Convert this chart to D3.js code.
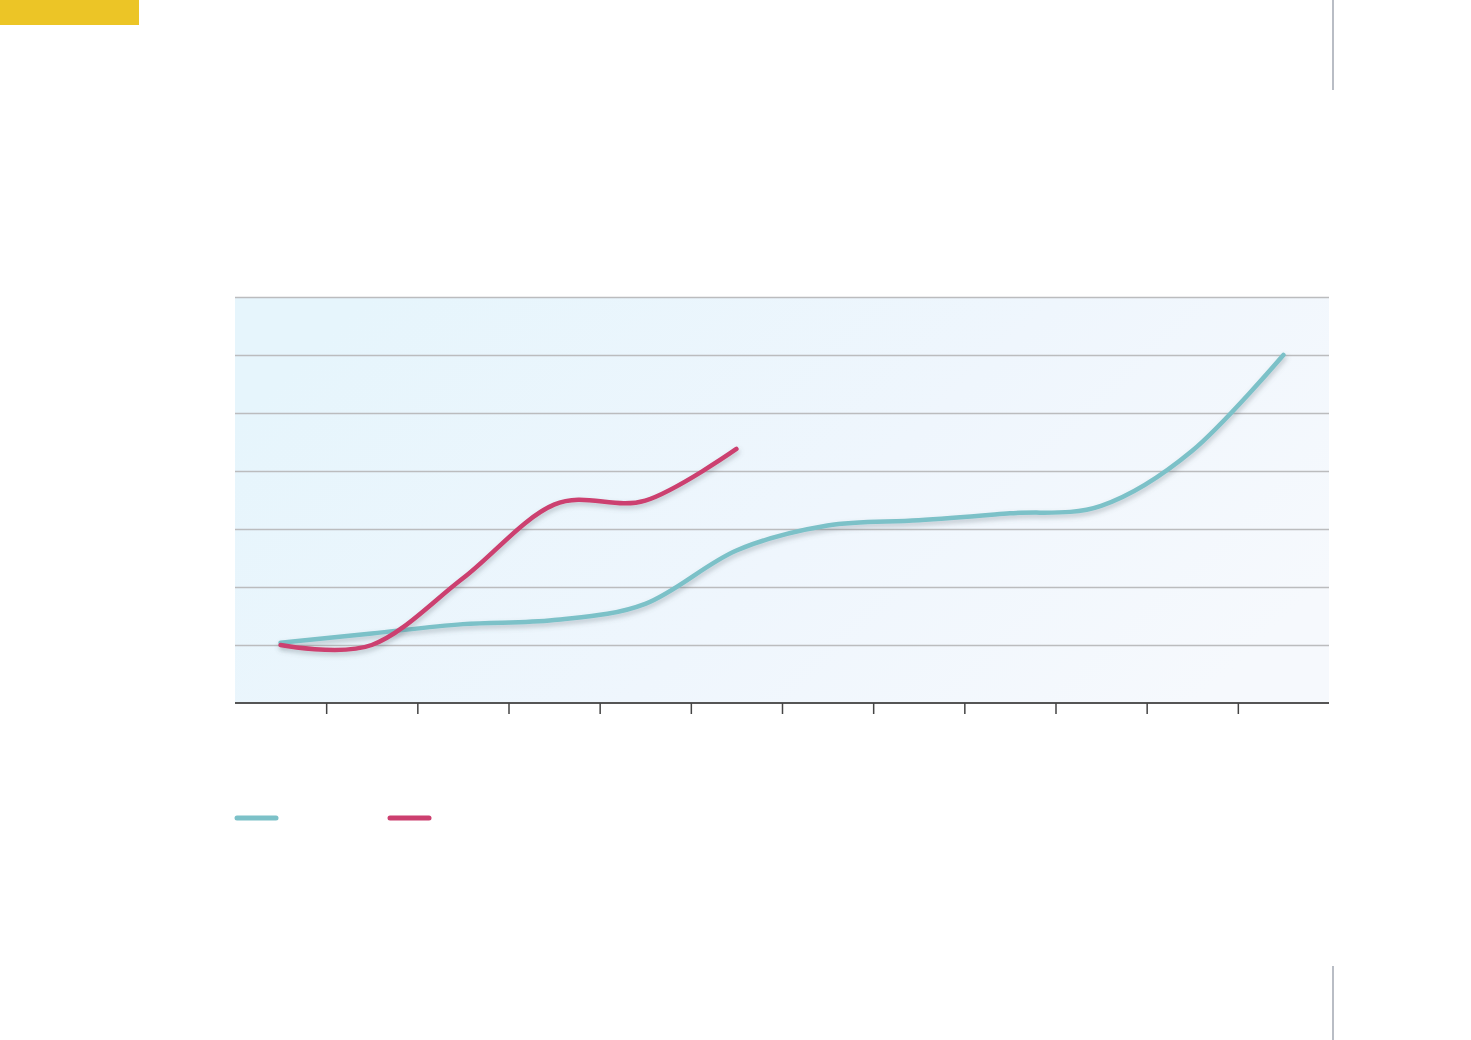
<!DOCTYPE html>
<html>
<head>
<meta charset="utf-8">
<script src="https://cdn.jsdelivr.net/npm/d3@7"></script>
<style>
  html, body { margin: 0; padding: 0; background: #ffffff; }
  svg { display: block; }
</style>
</head>
<body>
<svg id="chart" width="1471" height="1040"></svg>
<script>
// ---- data ----
const categories = ["1","2","3","4","5","6","7","8","9","10","11","12"];
const seriesTeal = [1.04, 1.2, 1.36, 1.43, 1.71, 2.63, 3.06, 3.15, 3.27, 3.4, 4.35, 6.0];
const seriesRed  = [1.0, 1.0, 2.15, 3.42, 3.49, 4.38];
const yTicks = [1, 2, 3, 4, 5, 6, 7];

const svg = d3.select("#chart");
const W = 1471, H = 1040;
const plot = { left: 235, right: 1329, top: 297, bottom: 703 };

const defs = svg.append("defs");
const grad = defs.append("linearGradient").attr("id", "bg")
  .attr("x1", "0%").attr("y1", "30%").attr("x2", "100%").attr("y2", "70%");
grad.append("stop").attr("offset", "0%").attr("stop-color", "#e6f5fc");
grad.append("stop").attr("offset", "55%").attr("stop-color", "#eff6fd");
grad.append("stop").attr("offset", "100%").attr("stop-color", "#f6f9fd");

const sh = defs.append("filter").attr("id", "shadow")
  .attr("x", "-5%").attr("y", "-20%").attr("width", "110%").attr("height", "140%");
sh.append("feDropShadow").attr("dx", 1).attr("dy", 3).attr("stdDeviation", 2.5)
  .attr("flood-color", "#5a6670").attr("flood-opacity", 0.35);

// decorative page elements
svg.append("rect").attr("x", 0).attr("y", 0).attr("width", 139).attr("height", 25).attr("fill", "#ecc526");
svg.append("line").attr("x1", 1333).attr("x2", 1333).attr("y1", 0).attr("y2", 90)
  .attr("stroke", "#b9bdc5").attr("stroke-width", 2);
svg.append("line").attr("x1", 1333).attr("x2", 1333).attr("y1", 966).attr("y2", 1040)
  .attr("stroke", "#b9bdc5").attr("stroke-width", 2);

// scales
const x = d3.scaleBand().domain(categories).range([plot.left, plot.right]).padding(0);
const xEdge = d3.scaleLinear().domain([0, categories.length]).range([plot.left, plot.right]);
const y = d3.scaleLinear().domain([0, 7]).range([plot.bottom, plot.top]);
const cx = (i) => x(categories[i]) + x.bandwidth() / 2;

// background
svg.append("rect").attr("x", plot.left).attr("y", plot.top)
  .attr("width", plot.right - plot.left).attr("height", plot.bottom - plot.top)
  .attr("fill", "url(#bg)");

// gridlines
const grid = svg.append("g").attr("transform", `translate(${plot.left},0)`)
  .call(d3.axisLeft(y).tickValues(yTicks).tickSize(-(plot.right - plot.left)).tickFormat(""));
grid.select(".domain").remove();
grid.selectAll(".tick line").attr("stroke", "#bbbcbe").attr("stroke-width", 1.3);

// x axis
const xAxis = svg.append("g").attr("transform", `translate(0,${plot.bottom})`)
  .call(d3.axisBottom(xEdge).tickValues(d3.range(1, categories.length)).tickSize(11).tickFormat(""));
xAxis.select(".domain").attr("stroke", "#555").attr("stroke-width", 2.2)
  .attr("d", `M${plot.left},0H${plot.right}`);
xAxis.selectAll(".tick line").attr("stroke", "#444").attr("stroke-width", 1.5);

// lines
const line = d3.line()
  .x((d, i) => cx(i))
  .y(d => y(d))
  .curve(d3.curveCardinal.tension(0));

const series = [
  { values: seriesTeal, color: "#7cc1c8" },
  { values: seriesRed, color: "#cc3f6f" }
];
series.forEach(s => {
  svg.append("path").datum(s.values).attr("d", line)
    .attr("fill", "none").attr("stroke", s.color).attr("stroke-width", 4.5)
    .attr("stroke-linecap", "round").attr("stroke-linejoin", "round")
    .attr("filter", "url(#shadow)");
});

// legend
const legend = svg.append("g");
[{ x: 237, color: "#7cc1c8" }, { x: 390, color: "#cc3f6f" }].forEach(l => {
  legend.append("line").attr("x1", l.x).attr("x2", l.x + 39).attr("y1", 818).attr("y2", 818)
    .attr("stroke", l.color).attr("stroke-width", 5).attr("stroke-linecap", "round");
});
</script>
</body>
</html>
